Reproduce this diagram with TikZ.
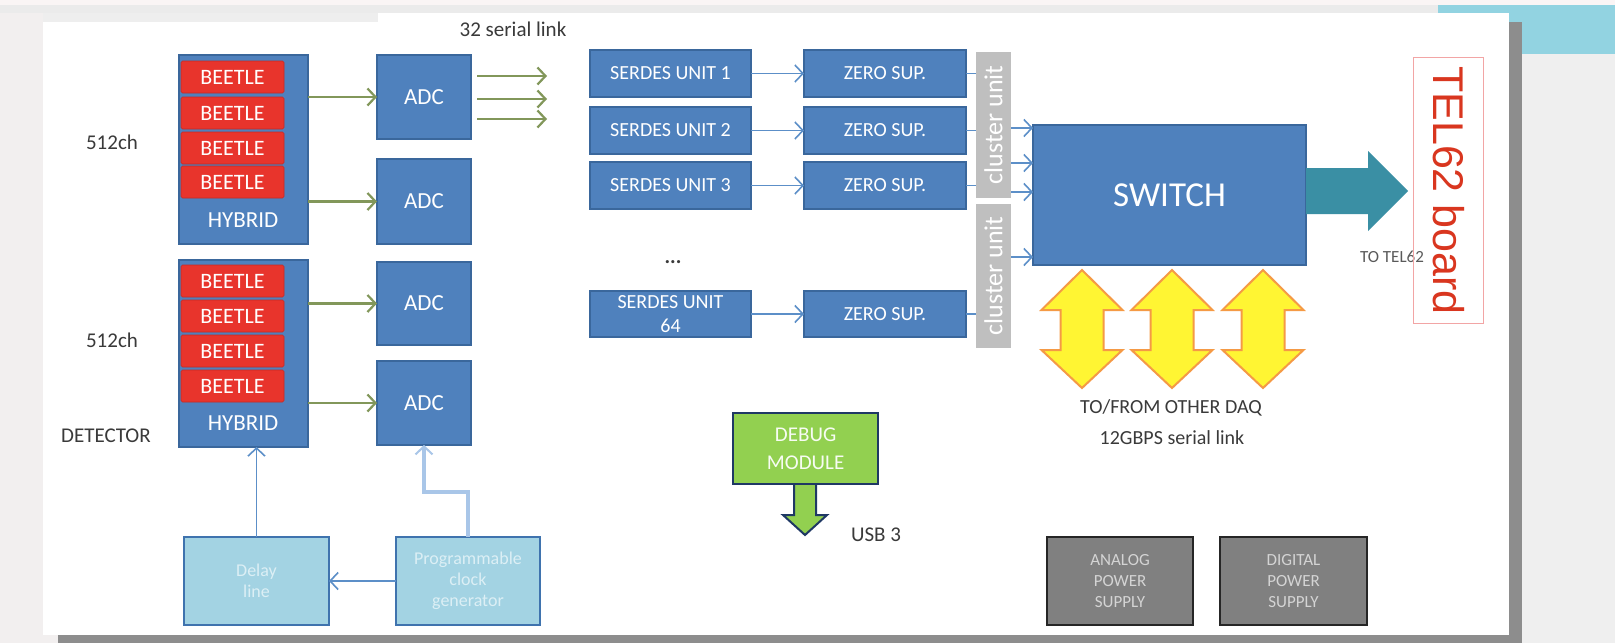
\documentclass[tikz,border=0pt]{standalone}
\usepackage{fontspec}
\setmainfont{Carlito}
\newfontfamily\arialfont{Liberation Sans}
\usetikzlibrary{arrows.meta}
\newcommand\fsz[2]{\fontsize{#1}{#2}\selectfont}
\definecolor{bgleft}{HTML}{F2EFEF}
\definecolor{bgtop}{HTML}{FAF5F5}
\definecolor{bgband}{HTML}{EBEBEB}
\definecolor{bgright}{HTML}{EFEFEF}
\definecolor{tealbar}{HTML}{92D3E1}
\definecolor{shadowgray}{HTML}{8D8D8D}
\definecolor{faintgray}{HTML}{EEEEEE}
\definecolor{boxblue}{HTML}{4F81BD}
\definecolor{boxedge}{HTML}{3A679C}
\definecolor{beetred}{HTML}{E8342C}
\definecolor{beetedge}{HTML}{C42A24}
\definecolor{lightbox}{HTML}{A3D3E3}
\definecolor{lightedge}{HTML}{3F73AE}
\definecolor{lighttext}{HTML}{DCEFF5}
\definecolor{olivegreen}{HTML}{82975A}
\definecolor{connblue}{HTML}{5C8FC8}
\definecolor{clockblue}{HTML}{A9C6E8}
\definecolor{clgray}{HTML}{BFBFBF}
\definecolor{tealarrow}{HTML}{3A8FA4}
\definecolor{yellowfill}{HTML}{FFF533}
\definecolor{yorange}{HTML}{F59A45}
\definecolor{dbgreen}{HTML}{92D050}
\definecolor{navyedge}{HTML}{1F3864}
\definecolor{psgray}{HTML}{808080}
\definecolor{psedge}{HTML}{262626}
\definecolor{pstext}{HTML}{D4D4D4}
\definecolor{telred}{HTML}{D9361F}
\definecolor{telbox}{HTML}{F2A5A5}
\definecolor{labeltext}{HTML}{3A3A3A}
\definecolor{smallgray}{HTML}{5A5A5A}
\tikzset{
  box/.style={draw=boxedge, fill=boxblue, line width=1.5pt, text=white, inner sep=0pt, outer sep=0pt, anchor=north west, align=center},
  beetle/.style={draw=beetedge, fill=beetred, line width=0.6pt, rounded corners=1.5pt, text=white, inner sep=0pt, outer sep=0pt, anchor=north west, minimum width=103pt, minimum height=32pt, font={\fsz{22}{22}}},
  hybtext/.style={text=white, inner sep=0pt, font={\fsz{23}{23}}},
  adcbox/.style={box, minimum width=94pt, minimum height=84pt, font={\fsz{23}{23}}},
  serbox/.style={box, minimum width=161pt, minimum height=47pt, font={\fsz{20}{24}}},
  zerbox/.style={box, minimum width=162pt, minimum height=47pt, font={\fsz{20}{24}}},
  lbox/.style={draw=lightedge, fill=lightbox, line width=1.5pt, text=lighttext, inner sep=0pt, outer sep=0pt, anchor=north west, align=center, minimum width=145pt, minimum height=88pt, font={\fsz{18}{21}}},
  clbox/.style={fill=clgray, inner sep=0pt, outer sep=0pt, anchor=north west, minimum width=35pt, text=white, font={\fsz{26}{26}}},
  psbox/.style={draw=psedge, fill=psgray, line width=2.5pt, text=pstext, inner sep=0pt, outer sep=0pt, anchor=north west, align=center, minimum width=146pt, minimum height=88pt, font={\fsz{17}{21}}},
  lbl/.style={text=labeltext, inner sep=0pt, font={\fsz{21}{25}}, align=center},
  olivearr/.style={draw=olivegreen, line width=2.2pt, -{Straight Barb[length=8pt,width=17pt]}},
  bluearr/.style={draw=connblue, line width=1.6pt, -{Straight Barb[length=8pt,width=17pt]}},
  blueline/.style={draw=connblue, line width=1.6pt},
  clockarr/.style={draw=clockblue, line width=3.2pt, -{Straight Barb[length=8pt,width=17pt,line width=2pt]}},
  yarrow/.style={draw=yorange, fill=yellowfill, line width=2pt, line join=miter},
}
\begin{document}
\begin{tikzpicture}[x=1pt,y=-1pt]
\useasboundingbox (0,0) rectangle (1615,643);
% slide background
\fill[bgleft] (0,0) rectangle (1615,643);
\fill[bgtop] (0,0) rectangle (1615,5);
\fill[bgband] (0,5) rectangle (1438,13);
\fill[bgright] (1509,52) rectangle (1615,643);
\fill[tealbar] (1438,5) rectangle (1615,54);
\fill[shadowgray] (1509,22) rectangle (1522,643);
\fill[shadowgray] (58,635) rectangle (1522,643);
\fill[white] (43,13) rectangle (1509,635);
\fill[faintgray] (43,13) rectangle (378,22);

% hybrids and beetles
\node[box, minimum width=129pt, minimum height=189pt] (hyb1) at (179,55) {};
\node[hybtext] (hyb1t) at (243,220) {HYBRID};
\node[beetle] (b1a) at (181,61) {BEETLE};
\node[beetle] (b1b) at (181,97) {BEETLE};
\node[beetle] (b1c) at (181,132) {BEETLE};
\node[beetle] (b1d) at (181,166) {BEETLE};

\node[box, minimum width=129pt, minimum height=187pt] (hyb2) at (179,260) {};
\node[hybtext] (hyb2t) at (243,423) {HYBRID};
\node[beetle] (b2a) at (181,265) {BEETLE};
\node[beetle] (b2b) at (181,300) {BEETLE};
\node[beetle] (b2c) at (181,335) {BEETLE};
\node[beetle] (b2d) at (181,370) {BEETLE};

\node[lbl] (ch1) at (112,142) {512ch};
\node[lbl] (ch2) at (112,340) {512ch};
\node[lbl] (det) at (106,436) {DETECTOR};

% ADCs
\node[adcbox] (adc1) at (377,55) {ADC};
\node[adcbox, minimum height=85pt] (adc2) at (377,159) {ADC};
\node[adcbox, minimum height=83pt] (adc3) at (377,262) {ADC};
\node[adcbox] (adc4) at (377,361) {ADC};

\draw[olivearr] (hyb1.east |- adc1.west) -- (adc1.west);
\draw[olivearr] (hyb1.east |- adc2.west) -- (adc2.west);
\draw[olivearr] (hyb2.east |- adc3.west) -- (adc3.west);
\draw[olivearr] (hyb2.east |- adc4.west) -- (adc4.west);

% serial link outputs
\node[lbl] (serlink) at (513,29) {32 serial link};
\coordinate (s1) at (477,76);  \coordinate (o1) at (547,76);
\coordinate (s2) at (477,99);  \coordinate (o2) at (547,99);
\coordinate (s3) at (477,119); \coordinate (o3) at (547,119);
\draw[olivearr] (s1) -- (o1);
\draw[olivearr] (s2) -- (o2);
\draw[olivearr] (s3) -- (o3);

% clock / delay
\node[lbox] (delay) at (184,537) {Delay\\line};
\node[lbox, minimum width=144pt] (prog) at (396,537) {Programmable\\clock\\generator};
\draw[bluearr] (delay.north) -- (delay.north |- hyb2.south);
\draw[bluearr] (prog.west) -- (delay.east);
\draw[clockarr] (prog.north) -- ++(0,-45) -| (adc4.south);

% SERDES and zero suppression
\node[serbox] (ser1) at (590,50) {SERDES UNIT 1};
\node[serbox] (ser2) at (590,107) {SERDES UNIT 2};
\node[serbox] (ser3) at (590,162) {SERDES UNIT 3};
\node[serbox, minimum height=46pt] (ser4) at (590,291) {SERDES UNIT\\64};
\node[lbl] (dots) at (673,262) {\textbf{...}};

\node[zerbox] (zer1) at (804,50) {ZERO SUP.};
\node[zerbox] (zer2) at (804,107) {ZERO SUP.};
\node[zerbox] (zer3) at (804,162) {ZERO SUP.};
\node[zerbox, minimum height=46pt] (zer4) at (804,291) {ZERO SUP.};

\draw[bluearr] (ser1) -- (zer1);
\draw[bluearr] (ser2) -- (zer2);
\draw[bluearr] (ser3) -- (zer3);
\draw[bluearr] (ser4) -- (zer4);

% cluster units
\node[clbox, minimum height=146pt] (cl1) at (976,52) {\rotatebox{90}{cluster unit}};
\node[clbox, minimum height=144pt] (cl2) at (976,204) {\rotatebox{90}{cluster unit}};
\draw[blueline] (zer1.east) -- (zer1.east -| cl1.west);
\draw[blueline] (zer2.east) -- (zer2.east -| cl1.west);
\draw[blueline] (zer3.east) -- (zer3.east -| cl1.west);
\draw[blueline] (zer4.east) -- (zer4.east -| cl2.west);

% switch
\node[box, minimum width=273pt, minimum height=140pt, font={\fsz{35}{35}}] (sw) at (1033,125) {SWITCH};
\coordinate (k1) at (0,128);
\coordinate (k2) at (0,163);
\coordinate (k3) at (0,192);
\coordinate (k4) at (0,257);
\draw[bluearr] (cl1.east |- k1) -- (sw.west |- k1);
\draw[bluearr] (cl1.east |- k2) -- (sw.west |- k2);
\draw[bluearr] (cl1.east |- k3) -- (sw.west |- k3);
\draw[bluearr] (cl2.east |- k4) -- (sw.west |- k4);

% to TEL62
\fill[tealarrow] (1306,168) -- (1368,168) -- (1368,151) -- (1408,191) -- (1368,231) -- (1368,214) -- (1306,214) -- cycle;
\node[text=smallgray, inner sep=0pt, font={\fsz{17}{17}}] (totel) at (1392,257) {TO TEL62};
\node[draw=telbox, line width=1pt, inner sep=0pt, anchor=north west, minimum width=70pt, minimum height=266pt, text=telred, font={\arialfont\fsz{43}{43}}] (tel) at (1413,57) {\rotatebox{-90}{TEL62 board}};

% yellow bidirectional arrows
\foreach \cx in {1082,1172,1263} {
  \draw[yarrow] (\cx,270) -- (\cx+40.5,310) -- (\cx+21.5,310) -- (\cx+21.5,350) -- (\cx+40.5,350) -- (\cx,388) -- (\cx-40.5,350) -- (\cx-21.5,350) -- (\cx-21.5,310) -- (\cx-40.5,310) -- cycle;
}
\node[lbl, font={\fsz{20}{20}}] (daq) at (1171,408) {TO/FROM OTHER DAQ};
\node[lbl, font={\fsz{20}{20}}] (gbps) at (1172,438) {12GBPS serial link};

% debug module
\draw[draw=navyedge, fill=dbgreen, line width=2pt, line join=miter] (794,480) -- (794,515) -- (783,515) -- (805,535) -- (827,515) -- (816,515) -- (816,480) -- cycle;
\node[draw=navyedge, fill=dbgreen, line width=2.2pt, inner sep=0pt, anchor=north west, minimum width=145pt, minimum height=71pt, text=white!93!dbgreen, align=center, font={\fsz{21}{28}}] (dbg) at (732,412) {DEBUG\\MODULE};
\node[lbl] (usb) at (876,535) {USB 3};

% power supplies
\node[psbox] (apsu) at (1047,537) {ANALOG\\POWER\\SUPPLY};
\node[psbox, minimum width=147pt] (dpsu) at (1220,537) {DIGITAL\\POWER\\SUPPLY};
\end{tikzpicture}
\end{document}
